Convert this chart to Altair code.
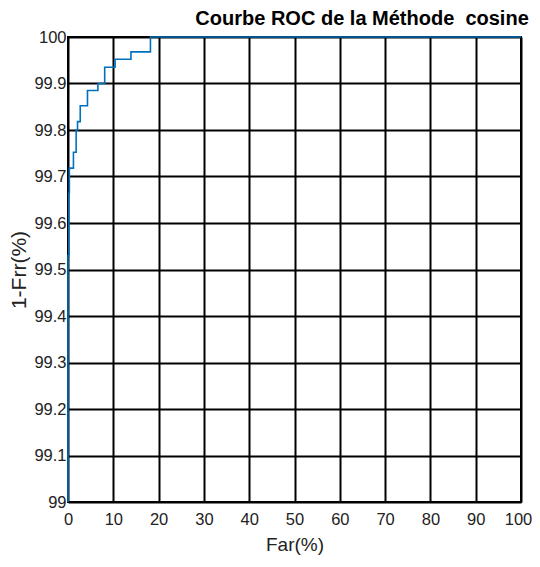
import altair as alt
import pandas as pd

far = [0, 0, 0.2, 0.3, 1.2, 1.8, 2.1, 2.7, 4.3, 6.6, 8.1, 10.4, 13.9, 18.2, 100]
frr = [99.0, 99.53, 99.665, 99.718, 99.752, 99.80, 99.818, 99.852, 99.885, 99.900,
       99.935, 99.952, 99.968, 100.0, 100.0]

x_ticks = [0, 10, 20, 30, 40, 50, 60, 70, 80, 90, 100]
y_ticks = [99.0, 99.1, 99.2, 99.3, 99.4, 99.5, 99.6, 99.7, 99.8, 99.9, 100.0]

df = pd.DataFrame({"far": far, "frr": frr, "i": list(range(len(far)))})

FONT = "Liberation Sans, Arial, sans-serif"

chart = alt.Chart(df).mark_line(
    interpolate="step-after", color="#0072BD", strokeWidth=1.6
).encode(
    x=alt.X("far:Q", scale=alt.Scale(domain=[0, 100], nice=False),
            axis=alt.Axis(values=x_ticks, title="Far(%)", grid=True,
                          gridColor="black", gridWidth=2, gridOpacity=1,
                          domain=False, ticks=False, labelPadding=9,
                          labelFlush=False, labelOverlap=False,
                          labelOffset={"condition": {"test": "datum.value == 100", "value": -3}, "value": 0},
                          labelFontSize=16.5, labelColor="#222", titleFontSize=19,
                          titleFontWeight="normal", titleColor="#222", titlePadding=8,
                          labelFont=FONT, titleFont=FONT)),
    y=alt.Y("frr:Q", scale=alt.Scale(domain=[99, 100], nice=False, zero=False),
            axis=alt.Axis(values=y_ticks, title="1-Frr(%)", grid=True,
                          gridColor="black", gridWidth=2, gridOpacity=1,
                          domain=False, ticks=False, labelPadding=2,
                          labelFlush=False, labelOverlap=False,
                          labelExpr="datum.value == 100 ? '100' : (datum.value == 99 ? '99' : format(datum.value, '.1f'))",
                          labelFontSize=16.5, labelColor="#222", titleFontSize=21,
                          titleFontWeight="normal", titleColor="#222", titlePadding=4,
                          labelFont=FONT, titleFont=FONT)),
    order="i:Q",
).properties(
    width=453, height=465,
    title=alt.TitleParams("Courbe ROC de la Méthode\u00a0 cosine", anchor="end",
                          fontSize=20, fontWeight="bold", font=FONT,
                          color="black", offset=0, dx=-3),
    padding={"left": 60, "top": 29, "right": 11, "bottom": 57},
    autosize=alt.AutoSizeParams(type="none"),
).configure_view(stroke="black", strokeWidth=2)

chart.save("out.html", embed_options={"renderer": "svg", "actions": False})
